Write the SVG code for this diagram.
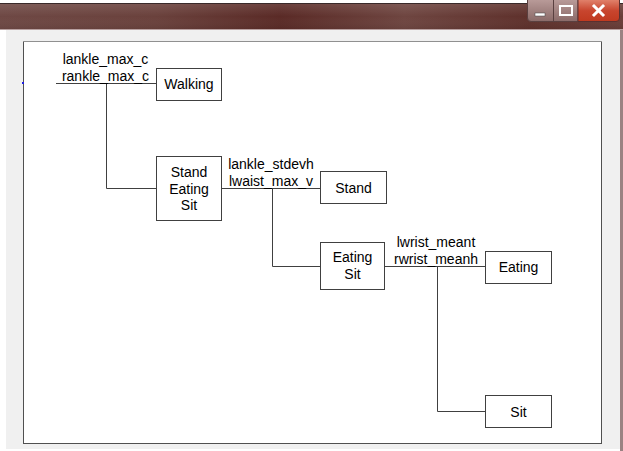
<svg xmlns="http://www.w3.org/2000/svg" width="623" height="451" viewBox="0 0 623 451">
<defs>
<linearGradient id="tb" x1="0" y1="0" x2="1" y2="0">
<stop offset="0" stop-color="#6e4844"/>
<stop offset="0.25" stop-color="#6a413c"/>
<stop offset="0.45" stop-color="#5a2a26"/>
<stop offset="0.65" stop-color="#6e4540"/>
<stop offset="0.85" stop-color="#5e302b"/>
<stop offset="1" stop-color="#6a3d38"/>
</linearGradient>
<linearGradient id="tbv" x1="0" y1="0" x2="0" y2="1">
<stop offset="0" stop-color="#ffffff" stop-opacity="0.12"/>
<stop offset="0.5" stop-color="#ffffff" stop-opacity="0"/>
<stop offset="1" stop-color="#000000" stop-opacity="0.08"/>
</linearGradient>
<linearGradient id="btn" x1="0" y1="0" x2="0" y2="1">
<stop offset="0" stop-color="#b89a98"/>
<stop offset="1" stop-color="#8a6a68"/>
</linearGradient>
<linearGradient id="cls" x1="0" y1="0" x2="0" y2="1">
<stop offset="0" stop-color="#e0806a"/>
<stop offset="0.5" stop-color="#c8452e"/>
<stop offset="1" stop-color="#c0391f"/>
</linearGradient>
</defs>
<style>
.box{fill:#ffffff;stroke:#404040;stroke-width:1}
.ln{fill:none;stroke:#404040;stroke-width:1}
.t{font-family:"Liberation Sans",Arial,sans-serif;font-size:14px;fill:#000000;text-anchor:middle}
</style>
<rect x="0" y="0" width="623" height="451" fill="#ffffff"/>
<g id="window">
<rect x="6" y="30" width="614" height="419" fill="#f0f0f0"/>
<rect x="620" y="28" width="3" height="423" fill="#9a8282"/>
<rect x="0" y="3" width="623" height="27" fill="url(#tb)"/>
<rect x="0" y="3" width="623" height="27" fill="url(#tbv)"/>
<rect x="0" y="3" width="623" height="1" fill="#3a2a2a"/>
<rect x="0" y="29" width="623" height="1" fill="#b8a0a0"/>
<path d="M527.5,0 V18 Q527.5,21.5 531,21.5 H578 V0" fill="url(#btn)" stroke="#5a4040" stroke-width="1"/>
<line x1="553.5" y1="0" x2="553.5" y2="21" stroke="#5a4040"/>
<path d="M578,0 V21.5 H616 Q619.5,21.5 619.5,18 V0" fill="url(#cls)" stroke="#5a3030" stroke-width="1"/>
<rect x="535" y="13" width="10" height="3" fill="#ffffff" stroke="#404040" stroke-width="0.5"/>
<rect x="560" y="6" width="12" height="9" fill="none" stroke="#ffffff" stroke-width="2"/>
<path d="M594,6 L603,15 M603,6 L594,15" stroke="#ffffff" stroke-width="3" stroke-linecap="square"/>
</g>
<g id="panel">
<rect x="23.5" y="41.5" width="578" height="402" fill="#ffffff" stroke="#505050" stroke-width="1"/>
<line x1="23" y1="41.5" x2="602" y2="41.5" stroke="#909090"/>
<rect x="22" y="82" width="2" height="2" fill="#2020e0"/>
</g>
<g id="connectors">
<path class="ln" d="M56,83.5 H156 M106.5,83.5 V188.5 H156"/>
<path class="ln" d="M222,188.5 H320 M272.5,188.5 V266.5 H320"/>
<path class="ln" d="M385,266.5 H485 M437.5,266.5 V411.5 H485"/>
<text class="t" x="105.5" y="64">lankle_max_c</text>
<text class="t" x="105.5" y="81">rankle_max_c</text>
<text class="t" x="271" y="169">lankle_stdevh</text>
<text class="t" x="271" y="186">lwaist_max_v</text>
<text class="t" x="436" y="247">lwrist_meant</text>
<text class="t" x="436" y="264">rwrist_meanh</text>
</g>
<g id="walking">
<rect class="box" x="156.5" y="68.5" width="65" height="32"/>
<text class="t" x="189" y="89">Walking</text>
</g>
<g id="standeatingsit">
<rect class="box" x="156.5" y="156.5" width="65" height="64"/>
<text class="t" x="189" y="177">Stand</text>
<text class="t" x="189" y="193.5">Eating</text>
<text class="t" x="189" y="210">Sit</text>
</g>
<g id="stand">
<rect class="box" x="320.5" y="171.5" width="66" height="32"/>
<text class="t" x="353.5" y="193">Stand</text>
</g>
<g id="eatingsit">
<rect class="box" x="320.5" y="242.5" width="64" height="47"/>
<text class="t" x="352.5" y="262">Eating</text>
<text class="t" x="352.5" y="278.5">Sit</text>
</g>
<g id="eating">
<rect class="box" x="485.5" y="251.5" width="66" height="32"/>
<text class="t" x="518.5" y="272">Eating</text>
</g>
<g id="sit">
<rect class="box" x="485.5" y="395.5" width="66" height="32"/>
<text class="t" x="518.5" y="416.5">Sit</text>
</g>
</svg>
